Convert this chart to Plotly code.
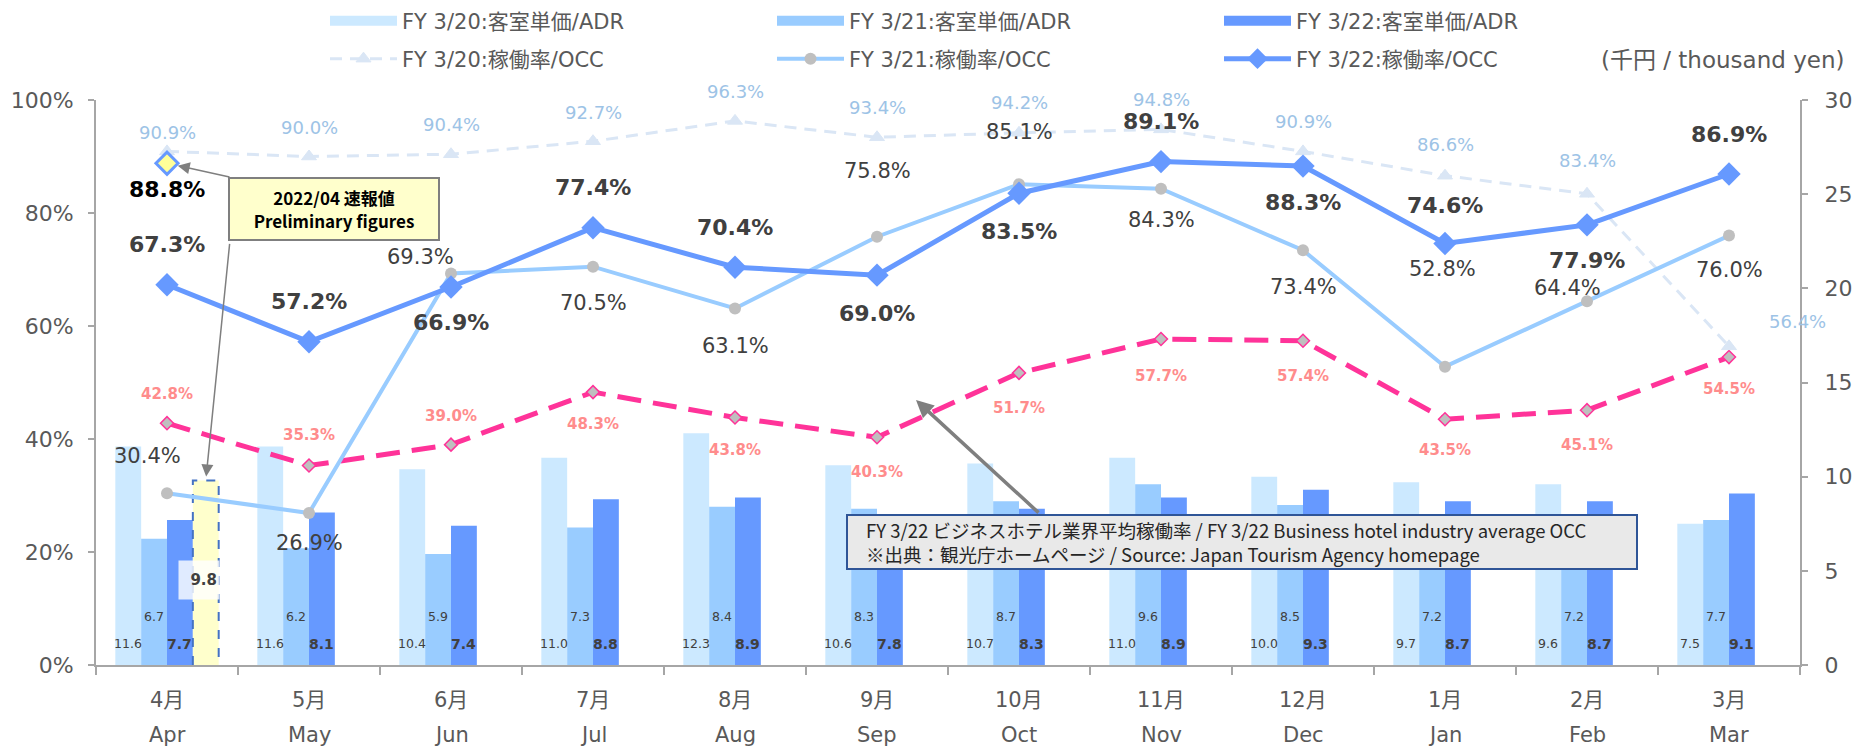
import plotly.graph_objects as go

# ---------------- data ----------------
months_jp = ["4月", "5月", "6月", "7月", "8月", "9月", "10月", "11月", "12月", "1月", "2月", "3月"]
months_en = ["Apr", "May", "Jun", "Jul", "Aug", "Sep", "Oct", "Nov", "Dec", "Jan", "Feb", "Mar"]

adr_fy20 = [11.6, 11.6, 10.4, 11.0, 12.3, 10.6, 10.7, 11.0, 10.0, 9.7, 9.6, 7.5]
adr_fy21 = [6.7, 6.2, 5.9, 7.3, 8.4, 8.3, 8.7, 9.6, 8.5, 7.2, 7.2, 7.7]
adr_fy22 = [7.7, 8.1, 7.4, 8.8, 8.9, 7.8, 8.3, 8.9, 9.3, 8.7, 8.7, 9.1]
adr_prelim = [9.8, None, None, None, None, None, None, None, None, None, None, None]

occ_fy20 = [90.9, 90.0, 90.4, 92.7, 96.3, 93.4, 94.2, 94.8, 90.9, 86.6, 83.4, 56.4]
occ_fy21 = [30.4, 26.9, 69.3, 70.5, 63.1, 75.8, 85.1, 84.3, 73.4, 52.8, 64.4, 76.0]
occ_fy22 = [67.3, 57.2, 66.9, 77.4, 70.4, 69.0, 83.5, 89.1, 88.3, 74.6, 77.9, 86.9]
occ_prelim = [88.8, None, None, None, None, None, None, None, None, None, None, None]
occ_industry = [42.8, 35.3, 39.0, 48.3, 43.8, 40.3, 51.7, 57.7, 57.4, 43.5, 45.1, 54.5]

names_adr = ["FY 3/20:客室単価/ADR", "FY 3/21:客室単価/ADR", "FY 3/22:客室単価/ADR"]
names_occ = ["FY 3/20:稼働率/OCC", "FY 3/21:稼働率/OCC", "FY 3/22:稼働率/OCC"]

# ---------------- styling ----------------
CJK = "Noto Sans CJK JP"
NUM = "DejaVu Sans"
MIX = "DejaVu Sans, Noto Sans CJK JP"
C20, C21, C22 = "#cce9ff", "#99ccff", "#6699ff"
AXC = "#a6a6a6"
TXT = "#595959"
DARK = "#404040"
PINK = "#ff3399"
PINK_T = "#ff8c8c"

BARGAP = 0.272
W = (1 - BARGAP) / 4
xs = list(range(len(months_jp)))


def slot(k):
    return [i + (k - 1.5) * W for i in xs]


# label offsets (pixels)
off20 = [19, 29, 30, 29, 29, 30, 30, 30, 30, 31, 33, 25]
dx20 = [0] * 11 + [68]
off21 = [37, -30, 16, -36, -38, 66, 52, -31, -37, 98, 13, -34]
dx21 = [-20, 0, -31, 0, 0, 0, 0, 0, 0, -3, -20, 0]
off22 = [40, 40, -35, 40, 40, -38, -38, 40, -36, 38, -36, 40]
offind = [29, 31, 29, -32, -32, -35, -35, -37, -35, -31, -35, -32]

fig = go.Figure()

# bars (ADR, right axis = yaxis)
for vals, col in [(adr_fy20, C20), (adr_fy21, C21), (adr_fy22, C22), (adr_prelim, "#ffffcc")]:
    fig.add_trace(go.Bar(x=xs, y=vals, marker=dict(color=col, line=dict(width=0)),
                         yaxis="y", showlegend=False, hoverinfo="skip"))

# dashed outline of the preliminary bar
c0 = xs[0] + 1.5 * W
v0 = adr_prelim[0]
fig.add_trace(go.Scatter(x=[c0 - W / 2, c0 - W / 2, c0 + W / 2, c0 + W / 2], y=[0, v0, v0, 0],
                         mode="lines", line=dict(color="#4472c4", width=2, dash="dash"),
                         yaxis="y", showlegend=False, hoverinfo="skip"))

# legend entries for bars
for nm, col in zip(names_adr, [C20, C21, C22]):
    fig.add_trace(go.Scatter(x=[None], y=[None], mode="lines", name=nm,
                             line=dict(color=col, width=12), legend="legend"))

# lines (OCC, left axis = yaxis2)
fig.add_trace(go.Scatter(x=xs, y=occ_industry, mode="lines+markers", yaxis="y2", showlegend=False,
                         line=dict(color=PINK, width=5, dash="24px,12px"),
                         marker=dict(symbol="diamond", size=10, color="#bfbfbf", line=dict(color=PINK, width=1.5))))
fig.add_trace(go.Scatter(x=xs, y=occ_fy20, mode="lines+markers", yaxis="y2", name=names_occ[0], legend="legend2",
                         line=dict(color="#dae6f5", width=3, dash="12px,8px"),
                         marker=dict(symbol="triangle-up", size=13, color="#dae6f5", line=dict(color="#dae6f5", width=1))))
fig.add_trace(go.Scatter(x=xs, y=occ_fy21, mode="lines+markers", yaxis="y2", name=names_occ[1], legend="legend2",
                         line=dict(color=C21, width=4),
                         marker=dict(symbol="circle", size=12, color="#bfbfbf")))
fig.add_trace(go.Scatter(x=xs, y=occ_fy22, mode="lines+markers", yaxis="y2", name=names_occ[2], legend="legend2",
                         line=dict(color=C22, width=5),
                         marker=dict(symbol="diamond", size=18, color=C22)))
fig.add_trace(go.Scatter(x=xs, y=occ_prelim, mode="markers", yaxis="y2", showlegend=False,
                         marker=dict(symbol="diamond", size=17, color="#ffff99", line=dict(color=C22, width=3))))

ann = []


def labels(vals, yref, dy, dx, font, bold=False):
    for i, v in enumerate(vals):
        if v is None:
            continue
        t = f"{v:.1f}%"
        if bold:
            t = f"<b>{t}</b>"
        ann.append(dict(x=xs[i], y=v, xref="x", yref=yref, text=t, showarrow=False,
                        yshift=dy[i], xshift=dx[i], font=font))


labels(occ_fy20, "y2", off20, dx20, dict(family=NUM, size=18, color="#9dc3e6"))
labels(occ_fy21, "y2", off21, dx21, dict(family=NUM, size=21, color=DARK))
labels(occ_fy22, "y2", off22, [0] * 12, dict(family=NUM, size=22, color=DARK), bold=True)
labels(occ_industry, "y2", offind, [0] * 12, dict(family=NUM, size=15, color=PINK_T), bold=True)
labels(occ_prelim, "y2", [-26] + [0] * 11, [0] * 12, dict(family=NUM, size=22, color="#000000"), bold=True)

# bar value labels
for vals, k, lvl, bold in [(adr_fy20, 0, 1.12, False), (adr_fy21, 1, 2.55, False), (adr_fy22, 2, 1.12, True)]:
    px_ = slot(k)
    for i, v in enumerate(vals):
        t = f"<b>{v:.1f}</b>" if bold else f"{v:.1f}"
        ann.append(dict(x=px_[i], y=lvl, xref="x", yref="y", text=t, showarrow=False,
                        font=dict(family=NUM, size=14 if bold else 12.5, color=DARK)))

# preliminary bar label
ann.append(dict(x=c0, y=4.5, xref="x", yref="y", text=f"<b>{adr_prelim[0]:.1f}</b>", showarrow=False,
                xanchor="center", yanchor="middle",
                xshift=-7, width=36, height=34, borderpad=2, align="right", bgcolor="rgba(255,255,255,0.8)",
                font=dict(family=NUM, size=15, color=DARK)))

# month labels
for i in xs:
    ann.append(dict(x=xs[i], y=0, xref="x", yref="paper", text=months_jp[i], showarrow=False,
                    yshift=-35, yanchor="middle", font=dict(family=MIX, size=21, color=TXT)))
    ann.append(dict(x=xs[i], y=0, xref="x", yref="paper", text=months_en[i], showarrow=False,
                    yshift=-70, yanchor="middle", font=dict(family=MIX, size=21, color=TXT)))

# unit label
ann.append(dict(x=1.027, y=1.071, xref="paper", yref="paper", xanchor="right", yanchor="middle",
                text="(千円 / thousand yen)", showarrow=False, font=dict(family=MIX, size=23, color=TXT)))

# preliminary callout box + arrows
ann.append(dict(x=0.1397, y=0.807, xref="paper", yref="paper", xanchor="center", yanchor="middle",
                text="<b>2022/04 速報値<br>Preliminary figures</b>",
                showarrow=False, width=204, height=56, bgcolor="#ffffcc", bordercolor="#7f7f7f", borderwidth=2,
                borderpad=2, font=dict(family=CJK, size=17, color="#000000")))
ann.append(dict(x=xs[0], y=occ_prelim[0], xref="x", yref="y2", text="", showarrow=True, ax=64, ay=14,
                arrowhead=2, arrowsize=1.6, arrowwidth=1.5, arrowcolor="#7f7f7f", standoff=11))
ann.append(dict(x=c0, y=v0, xref="x", yref="y", text="", showarrow=True, ax=24, ay=-238,
                arrowhead=2, arrowsize=1.6, arrowwidth=1.5, arrowcolor="#7f7f7f", standoff=4))

# industry note box + arrow
ann.append(dict(x=0.4812, y=0.469, xref="paper", yref="paper", text="", showarrow=True, ax=124, ay=114,
                arrowhead=2, arrowsize=1.0, arrowwidth=3.5, arrowcolor="#7f7f7f"))
ann.append(dict(x=(864 - 96) / 1704, y=0.2177, xref="paper", yref="paper", xanchor="left", yanchor="middle",
                align="left", showarrow=False,
                text="FY 3/22 ビジネスホテル業界平均稼働率 / FY 3/22 Business hotel industry average OCC<br>"
                     "※出典：観光庁ホームページ / Source: Japan Tourism Agency homepage",
                font=dict(family=CJK, size=18.5, color="#262626")))

shapes = [dict(type="rect", xref="paper", yref="paper",
               x0=(847 - 96) / 1704, x1=(1637 - 96) / 1704, y0=(665 - 569) / 565, y1=(665 - 515) / 565,
               fillcolor="#e9e9e9", line=dict(color="#2f5597", width=2), layer="above")]

axis_common = dict(showline=True, linecolor=AXC, linewidth=2, ticks="outside", ticklen=6, tickcolor=AXC,
                   tickwidth=2, showgrid=False, zeroline=False, tickfont=dict(family=NUM, size=22, color=TXT))

legend_common = dict(orientation="h", xref="container", yref="container", x=325 / 1853,
                     xanchor="left", yanchor="middle", entrywidth=365, entrywidthmode="pixels", itemwidth=67,
                     font=dict(family=MIX, size=21, color=TXT), bgcolor="rgba(0,0,0,0)", traceorder="normal")

fig.update_layout(
    width=1853, height=747, template="none",
    paper_bgcolor="white", plot_bgcolor="white",
    margin=dict(l=96, r=53, t=100, b=82),
    barmode="group", bargap=BARGAP, bargroupgap=0,
    xaxis=dict(range=[-0.5, 11.5], showline=True, linecolor=AXC, linewidth=2, showgrid=False, zeroline=False,
               tickvals=[i - 0.5 for i in range(len(xs) + 1)], ticks="outside", ticklen=8, tickcolor=AXC,
               tickwidth=2, showticklabels=False),
    yaxis=dict(range=[0, 30], dtick=5, tick0=0, side="right", ticklabelstandoff=12, **axis_common),
    yaxis2=dict(range=[0, 100], dtick=20, tick0=0, side="left", overlaying="y", ticksuffix="%",
                ticklabelstandoff=10, **axis_common),
    legend=dict(y=1 - 21 / 747, **legend_common),
    legend2=dict(y=1 - 59 / 747, **legend_common),
    annotations=ann, shapes=shapes,
    hovermode=False,
)

fig.write_html("out.html", config={"displayModeBar": False},
               post_script="document.body.style.margin='0';")
